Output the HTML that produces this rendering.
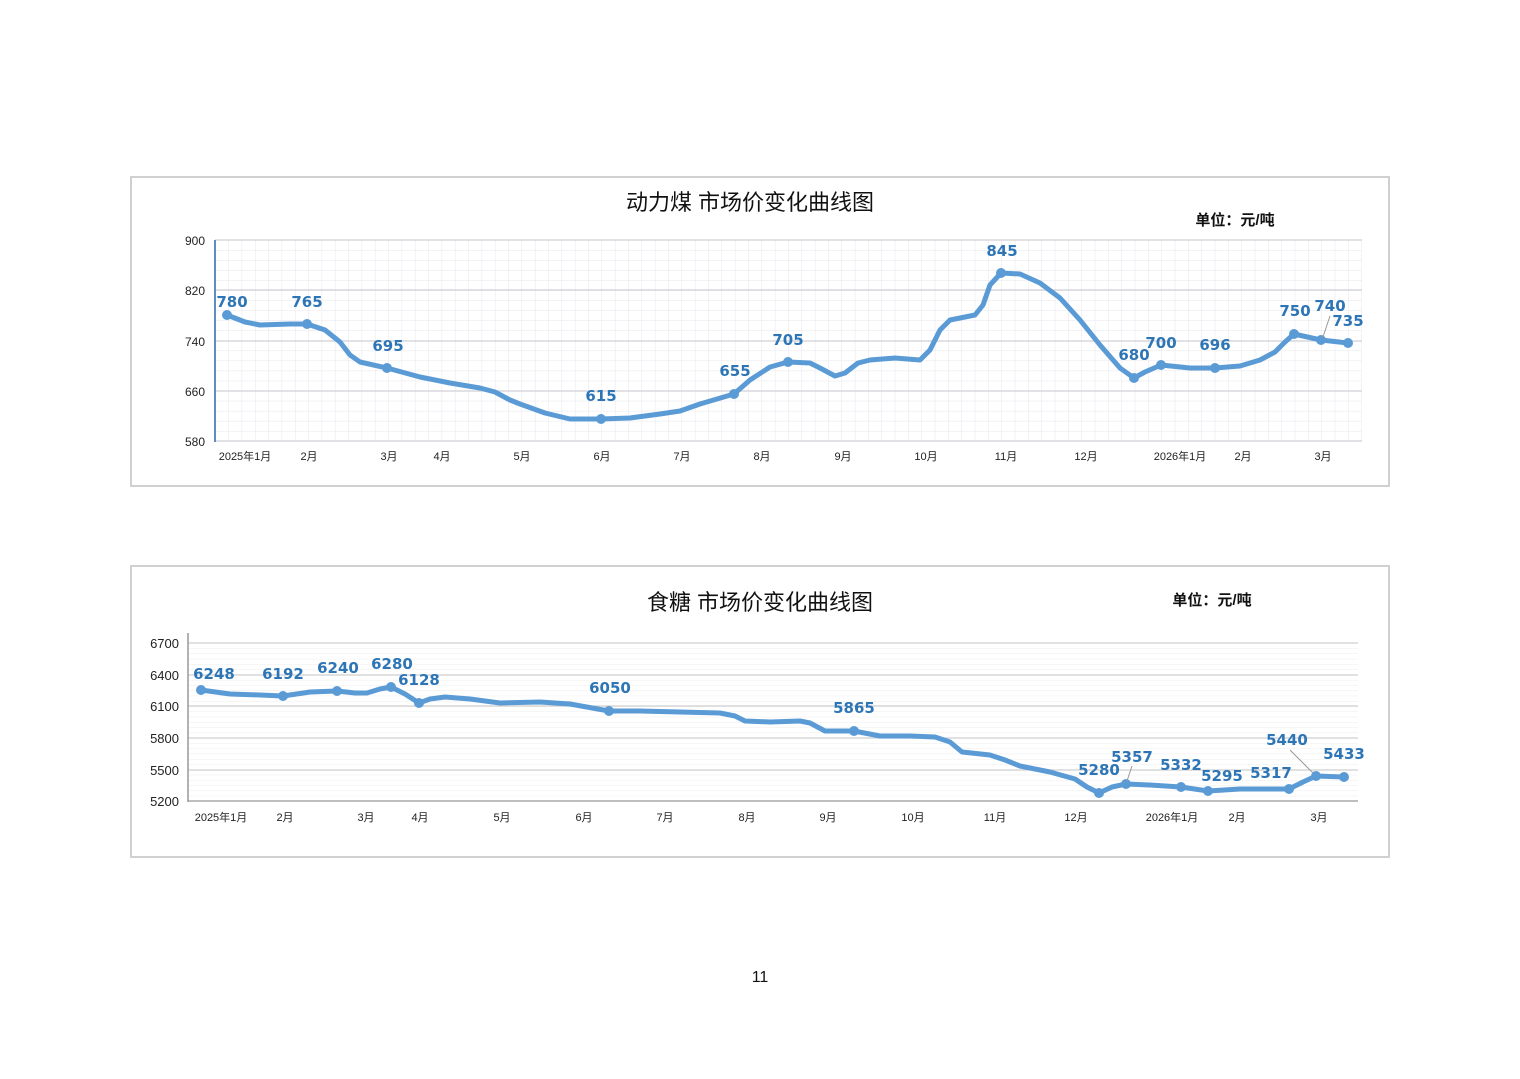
<!DOCTYPE html>
<html><head><meta charset="utf-8"><style>
body{margin:0;background:#fff;}
svg text{font-family:"Liberation Sans","Noto Sans CJK SC",sans-serif;}
svg g.lbl text{font-family:"DejaVu Sans",sans-serif;}
</style></head><body>
<svg width="1520" height="1074" xmlns="http://www.w3.org/2000/svg">
<defs>
<pattern id="g1" x="215" y="240" width="13.33" height="10.05" patternUnits="userSpaceOnUse">
<path d="M0 0V10.05M0 0H13.33" stroke="#e6e6ee" stroke-width="1" fill="none"/></pattern>
<pattern id="g2" x="188" y="643" width="2000" height="5.27" patternUnits="userSpaceOnUse">
<path d="M0 0H2000" stroke="#ececec" stroke-width="1"/></pattern>
</defs>
<rect width="1520" height="1074" fill="#fff"/>
<!-- chart 1 -->
<rect x="131" y="177" width="1258" height="309" fill="#fff" stroke="#d0d0d0" stroke-width="2"/>
<text x="750" y="210" font-size="22" text-anchor="middle" fill="#111">动力煤  市场价变化曲线图</text>
<text x="1235" y="225" font-size="15" font-weight="bold" text-anchor="middle" fill="#111">单位：元/吨</text>
<rect x="215" y="240" width="1147" height="201" fill="url(#g1)"/>
<g stroke="#cfcfd6" stroke-width="1.3">
<line x1="215" y1="240" x2="1362" y2="240"/><line x1="215" y1="290" x2="1362" y2="290"/><line x1="215" y1="341" x2="1362" y2="341"/><line x1="215" y1="391" x2="1362" y2="391"/><line x1="215" y1="441" x2="1362" y2="441"/>
</g>
<line x1="215" y1="240" x2="215" y2="442" stroke="#5b8fc4" stroke-width="2"/>
<g font-size="12" fill="#222" text-anchor="end">
<text x="205" y="245">900</text><text x="205" y="295">820</text><text x="205" y="346">740</text><text x="205" y="396">660</text><text x="205" y="446">580</text></g>
<g font-size="11" fill="#222" text-anchor="middle">
<text x="245" y="460">2025年1月</text><text x="309" y="460">2月</text><text x="389" y="460">3月</text><text x="442" y="460">4月</text><text x="522" y="460">5月</text><text x="602" y="460">6月</text><text x="682" y="460">7月</text><text x="762" y="460">8月</text><text x="843" y="460">9月</text><text x="926" y="460">10月</text><text x="1006" y="460">11月</text><text x="1086" y="460">12月</text><text x="1180" y="460">2026年1月</text><text x="1243" y="460">2月</text><text x="1323" y="460">3月</text></g>
<polyline fill="none" stroke="#5b9bd5" stroke-width="5" stroke-linejoin="round" stroke-linecap="round" points="227,315 245,322 260,325 290,324 307,324 325,330 340,342 350,355 360,362 387,368 420,377 450,383 480,388 495,392 510,400 520,404 545,413 570,419 601,419 630,418 660,414 680,411 700,404 734,394 750,380 770,367 788,362 810,363 820,368 835,376 845,373 858,363 870,360 895,358 920,360 930,350 940,330 950,320 975,315 983,305 990,285 1001,273 1020,274 1040,283 1060,298 1080,320 1100,345 1120,368 1134,378 1145,372 1161,365 1190,368 1215,368 1240,366 1260,360 1275,352 1285,342 1294,334 1321,340 1348,343"/>
<g fill="#5b9bd5">
<circle cx="227" cy="315" r="5"/><circle cx="307" cy="324" r="5"/><circle cx="387" cy="368" r="5"/><circle cx="601" cy="419" r="5"/><circle cx="734" cy="394" r="5"/><circle cx="788" cy="362" r="5"/><circle cx="1001" cy="273" r="5"/><circle cx="1134" cy="378" r="5"/><circle cx="1161" cy="365" r="5"/><circle cx="1215" cy="368" r="5"/><circle cx="1294" cy="334" r="5"/><circle cx="1321" cy="340" r="5"/><circle cx="1348" cy="343" r="5"/></g>
<line x1="1323" y1="337" x2="1330" y2="316" stroke="#999" stroke-width="1"/>
<g class="lbl" font-size="15" font-weight="bold" fill="#2e75b6" text-anchor="middle">
<text x="232" y="307">780</text><text x="307" y="307">765</text><text x="388" y="351">695</text><text x="601" y="401">615</text><text x="735" y="376">655</text><text x="788" y="345">705</text><text x="1002" y="256">845</text><text x="1134" y="360">680</text><text x="1161" y="348">700</text><text x="1215" y="350">696</text><text x="1295" y="316">750</text><text x="1330" y="311">740</text><text x="1348" y="326">735</text></g>
<!-- chart 2 -->
<rect x="131" y="566" width="1258" height="291" fill="#fff" stroke="#d0d0d0" stroke-width="2"/>
<text x="760" y="610" font-size="22" text-anchor="middle" fill="#111">食糖  市场价变化曲线图</text>
<text x="1212" y="605" font-size="15" font-weight="bold" text-anchor="middle" fill="#111">单位：元/吨</text>
<rect x="188" y="643" width="1170" height="158" fill="url(#g2)"/>
<g stroke="#cfcfcf" stroke-width="1.3">
<line x1="188" y1="643" x2="1358" y2="643"/><line x1="188" y1="675" x2="1358" y2="675"/><line x1="188" y1="706" x2="1358" y2="706"/><line x1="188" y1="738" x2="1358" y2="738"/><line x1="188" y1="770" x2="1358" y2="770"/></g>
<line x1="188" y1="801" x2="1358" y2="801" stroke="#aaa" stroke-width="1.5"/>
<line x1="188" y1="633" x2="188" y2="802" stroke="#999" stroke-width="1.5"/>
<g font-size="13" fill="#222" text-anchor="end">
<text x="179" y="648">6700</text><text x="179" y="680">6400</text><text x="179" y="711">6100</text><text x="179" y="743">5800</text><text x="179" y="775">5500</text><text x="179" y="806">5200</text></g>
<g font-size="11" fill="#222" text-anchor="middle">
<text x="221" y="821">2025年1月</text><text x="285" y="821">2月</text><text x="366" y="821">3月</text><text x="420" y="821">4月</text><text x="502" y="821">5月</text><text x="584" y="821">6月</text><text x="665" y="821">7月</text><text x="747" y="821">8月</text><text x="828" y="821">9月</text><text x="913" y="821">10月</text><text x="995" y="821">11月</text><text x="1076" y="821">12月</text><text x="1172" y="821">2026年1月</text><text x="1237" y="821">2月</text><text x="1319" y="821">3月</text></g>
<polyline fill="none" stroke="#5b9bd5" stroke-width="5" stroke-linejoin="round" stroke-linecap="round" points="201,690 230,694 260,695 283,696 310,692 337,691 355,693 367,693 380,689 391,687 405,694 419,703 430,699 445,697 470,699 500,703 540,702 570,704 609,711 640,711 680,712 720,713 735,716 745,721 770,722 800,721 810,723 825,731 854,731 880,736 910,736 935,737 950,742 962,752 990,755 1005,760 1020,766 1050,772 1075,779 1087,787 1099,793 1112,787 1126,784 1150,785 1181,787 1208,791 1240,789 1289,789 1303,782 1316,776 1344,777"/>
<g fill="#5b9bd5">
<circle cx="201" cy="690" r="5"/><circle cx="283" cy="696" r="5"/><circle cx="337" cy="691" r="5"/><circle cx="391" cy="687" r="5"/><circle cx="419" cy="703" r="5"/><circle cx="609" cy="711" r="5"/><circle cx="854" cy="731" r="5"/><circle cx="1099" cy="793" r="5"/><circle cx="1126" cy="784" r="5"/><circle cx="1181" cy="787" r="5"/><circle cx="1208" cy="791" r="5"/><circle cx="1289" cy="789" r="5"/><circle cx="1316" cy="776" r="5"/><circle cx="1344" cy="777" r="5"/></g>
<line x1="1127" y1="781" x2="1132" y2="766" stroke="#999" stroke-width="1"/>
<line x1="1290" y1="750" x2="1313" y2="773" stroke="#999" stroke-width="1"/>
<g class="lbl" font-size="15" font-weight="bold" fill="#2e75b6" text-anchor="middle">
<text x="214" y="679">6248</text><text x="283" y="679">6192</text><text x="338" y="673">6240</text><text x="392" y="669">6280</text><text x="419" y="685">6128</text><text x="610" y="693">6050</text><text x="854" y="713">5865</text><text x="1099" y="775">5280</text><text x="1132" y="762">5357</text><text x="1181" y="770">5332</text><text x="1222" y="781">5295</text><text x="1271" y="778">5317</text><text x="1287" y="745">5440</text><text x="1344" y="759">5433</text></g>
<text x="760" y="982" font-size="16" text-anchor="middle" fill="#111">11</text>
</svg>
</body></html>
